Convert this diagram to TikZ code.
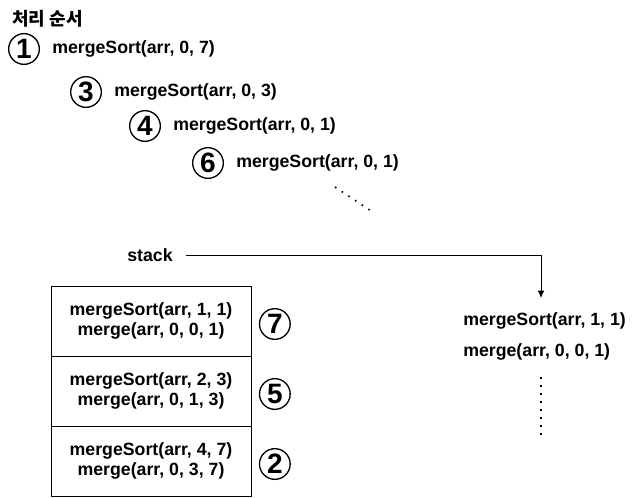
\documentclass[tikz,border=0pt]{standalone}
\usepackage{fontspec}
\setmainfont{Liberation Sans}
\newfontfamily\kofont{Noto Sans CJK KR}
\usetikzlibrary{arrows.meta,positioning}

\tikzset{
    num/.style={circle, draw, line width=1pt, minimum size=23pt, inner sep=0pt,
        font=\fontsize{21}{21}\selectfont\bfseries},
    call/.style={anchor=west, inner sep=0pt, font=\fontsize{13.3}{15}\selectfont\bfseries},
    cell/.style={draw, line width=0.75pt, minimum width=150pt, minimum height=52.5pt,
        align=center, font=\fontsize{13.3}{15}\selectfont\bfseries},
    dotline/.style={line width=1.2pt, dash pattern=on 1.2pt off 4.8pt},
}

\begin{document}
\begin{tikzpicture}[x=0.75pt, y=-0.75pt]
    \useasboundingbox (0,0) rectangle (641,497);

    % Title
    \node[anchor=west, inner sep=0pt, font=\kofont\fontsize{13.5}{15}\selectfont\bfseries] (title) at (12,19) {처리 순서};

    % Call order
    \foreach \n/\x/\y/\args in {1/24/49/{0, 7}, 3/86/92/{0, 3}, 4/145/126/{0, 1}, 6/208/163/{0, 1}} {
        \node[num] (c\n) at (\x,\y) {\n};
        \node[call, right=9pt of c\n] (t\n) {mergeSort(arr, \args)};
    }
    \coordinate (d1) at (335,187);
    \coordinate (d2) at (371,211);
    \draw[dotline] (d1) -- (d2);

    % Stack frames
    \node[font=\fontsize{13.3}{15}\selectfont\bfseries, inner xsep=10pt, inner ysep=0pt] (stack) at (150,255) {stack};
    \foreach \n/\y/\a/\b in {7/321/{1, 1}/{0, 0, 1}, 5/391/{2, 3}/{0, 1, 3}, 2/461/{4, 7}/{0, 3, 7}} {
        \node[cell] (s\n) at (151,\y) {mergeSort(arr, \a)\\merge(arr, \b)};
        \node[num, right=5.5pt of s\n, yshift=-2.25pt] (c\n) {\n};
    }

    % Top of stack
    \node[call] (r1) at (463,321) {mergeSort(arr, 1, 1)};
    \node[call] (r2) at (463,352) {merge(arr, 0, 0, 1)};
    \coordinate (top) at (541,298);
    \draw[line width=0.75pt, -{Latex[length=5.5pt,width=5pt]}] (stack.east) -| (top);
    \coordinate (v1) at (541,377);
    \coordinate (v2) at (541,435);
    \draw[dotline] (v1) -- (v2);

\end{tikzpicture}
\end{document}
